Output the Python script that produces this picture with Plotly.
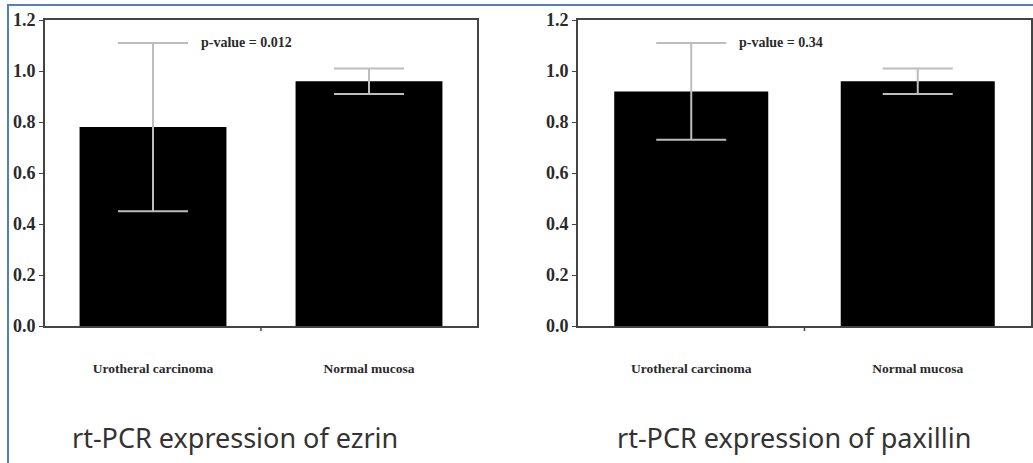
import plotly.graph_objects as go

categories = ["Urotheral carcinoma", "Normal mucosa"]
ezrin_means = [0.78, 0.96]
ezrin_err = [0.33, 0.05]
paxillin_means = [0.92, 0.96]
paxillin_err = [0.19, 0.05]
pvalues = ["p-value = 0.012", "p-value = 0.34"]
titles = ["rt-PCR expression of ezrin", "rt-PCR expression of paxillin"]
y_ticks = [0.0, 0.2, 0.4, 0.6, 0.8, 1.0, 1.2]

W, H = 1033, 463
fig = go.Figure()

panels = [
    ("x", "y", ezrin_means, ezrin_err, (45, 477)),
    ("x2", "y2", paxillin_means, paxillin_err, (578, 1031)),
]

for i, (xa, ya, means, errs, (px0, px1)) in enumerate(panels):
    fig.add_trace(go.Bar(
        x=categories, y=means, xaxis=xa, yaxis=ya,
        marker=dict(color="black", line=dict(width=0)),
        width=0.68,
        error_y=dict(type="data", array=errs, visible=True,
                     color="#bdbdbd", thickness=2, width=35),
        showlegend=False,
    ))

axis_font = dict(family="Liberation Serif", size=18, color="#2a2a2a", weight="bold")
cat_font = dict(family="Liberation Serif", size=13.5, color="#2a2a2a", weight="bold")
ydom = [(H - 326) / H, (H - 20) / H]

layout = dict(
    width=W, height=H,
    margin=dict(l=0, r=0, t=0, b=0, autoexpand=False),
    paper_bgcolor="white", plot_bgcolor="white",
)
for i, (xa, ya, means, errs, (px0, px1)) in enumerate(panels):
    xk = "xaxis" if i == 0 else "xaxis2"
    yk = "yaxis" if i == 0 else "yaxis2"
    layout[xk] = dict(
        domain=[px0 / W, px1 / W], anchor=ya,
        type="category", categoryorder="array", categoryarray=categories,
        range=[-0.5, 1.5], automargin=False,
        showline=True, linecolor="#444", linewidth=2, mirror=True,
        ticks="", tickfont=cat_font, ticklabelstandoff=29,
        showgrid=False, zeroline=False, fixedrange=True,
    )
    layout[yk] = dict(
        domain=ydom, anchor=xa, automargin=False,
        range=[0, 1.2], tickvals=y_ticks, tickformat=".1f",
        showline=True, linecolor="#444", linewidth=2, mirror=True,
        ticks="outside", ticklen=4, tickcolor="#444",
        tickfont=axis_font, ticklabelstandoff=0,
        showgrid=False, zeroline=False, fixedrange=True,
    )
    fig.add_shape(type="line", xref=xa, yref=f"{ya} domain",
                  x0=0.5, x1=0.5, y0=0, y1=-5 / 306,
                  line=dict(color="#444", width=1.5))
fig.update_layout(**layout)

pfont = dict(family="Liberation Serif", size=14, color="#2a2a2a", weight="bold")
fig.add_annotation(x=0, y=1.11, xref="x", yref="y", xshift=46, text=pvalues[0],
                   showarrow=False, xanchor="left", yanchor="middle", font=pfont)
fig.add_annotation(x=0, y=1.11, xref="x2", yref="y2", xshift=46, text=pvalues[1],
                   showarrow=False, xanchor="left", yanchor="middle", font=pfont)

tfont = dict(family="Noto Sans", size=27, color="#333")
fig.add_annotation(x=235 / W, y=(H - 437) / H, xref="paper", yref="paper", text=titles[0],
                   showarrow=False, xanchor="center", yanchor="middle", font=tfont)
fig.add_annotation(x=794 / W, y=(H - 437) / H, xref="paper", yref="paper", text=titles[1],
                   showarrow=False, xanchor="center", yanchor="middle", font=tfont)

fig.add_shape(type="path", xref="paper", yref="paper",
              path=f"M {8/W} 0 L {8/W} {(H-5)/H} L 1 {(H-5)/H}",
              line=dict(color="#4f81bd", width=2))

fig.write_html("out.html", config={"displayModeBar": False},
               post_script="document.body.style.margin='0';document.body.style.overflow='hidden';")
